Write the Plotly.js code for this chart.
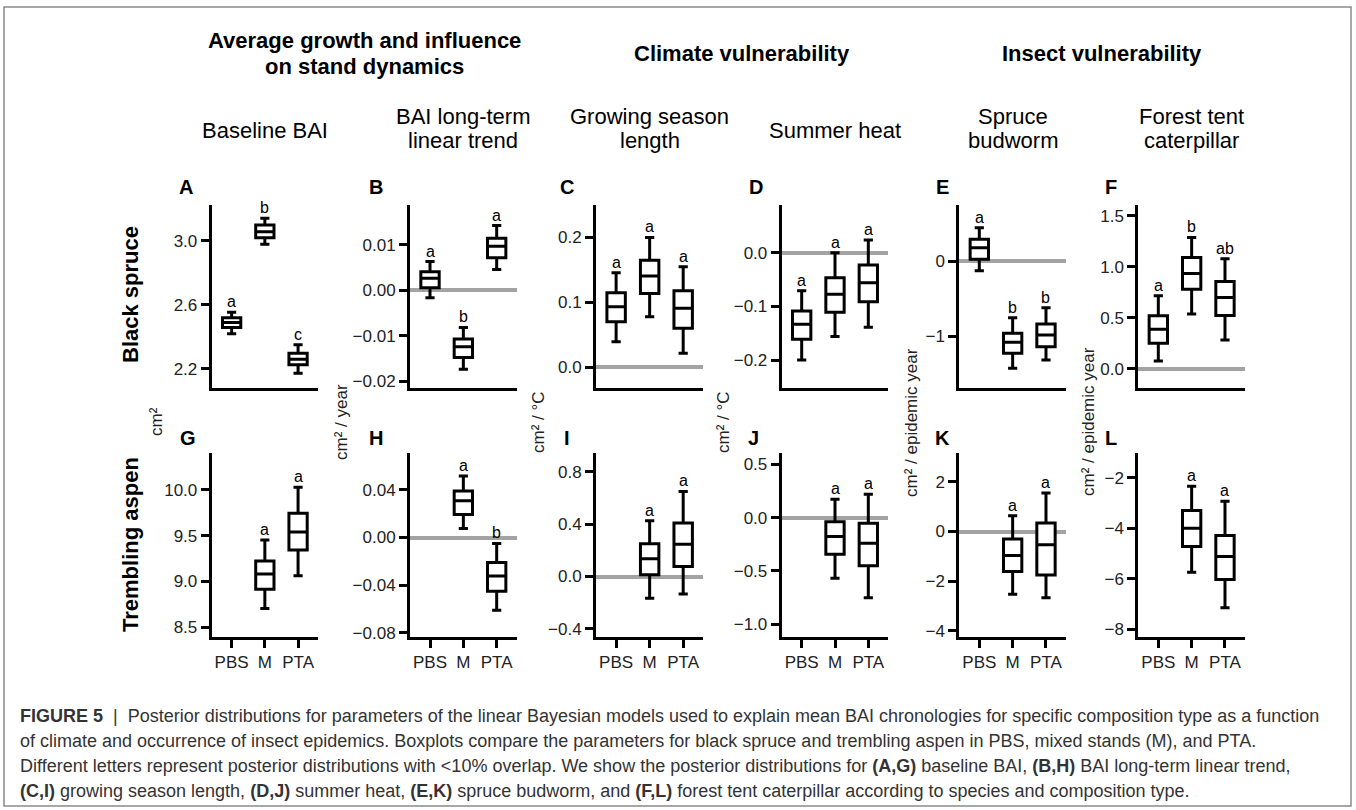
<!DOCTYPE html>
<html><head><meta charset="utf-8">
<script src="https://cdn.plot.ly/plotly-3.0.1.min.js"></script>
<style>html,body{margin:0;padding:0;background:#fff}#plot{width:1356px;height:810px}</style>
</head><body><div id="plot"></div>
<script>
// ---------------- DATA ----------------
const categories = ['PBS', 'M', 'PTA'];
const aspenCategories = ['M', 'PTA'];
// each row: [lower whisker, q1, median, q3, upper whisker]
// Black spruce
const spruceBaseline = [[2.42, 2.458, 2.49, 2.52, 2.554], [2.98, 3.02, 3.058, 3.10, 3.142], [2.173, 2.225, 2.26, 2.298, 2.35]];
const spruceTrend = [[-0.0016, 0.0006, 0.00265, 0.0041, 0.00634], [-0.01735, -0.0148, -0.0124, -0.0107, -0.00817], [0.00457, 0.0072, 0.0097, 0.01148, 0.01428]];
const spruceSeason = [[0.0394, 0.0702, 0.0933, 0.1148, 0.1455], [0.0778, 0.1138, 0.1405, 0.165, 0.2], [0.0215, 0.06, 0.091, 0.118, 0.155]];
const spruceHeat = [[-0.2, -0.161, -0.1334, -0.1086, -0.0708], [-0.156, -0.111, -0.0775, -0.0466, 0.0], [-0.139, -0.0913, -0.0559, -0.023, 0.0236]];
const spruceBudworm = [[-0.129, 0.022, 0.178, 0.289, 0.444], [-1.431, -1.231, -1.084, -0.964, -0.756], [-1.32, -1.142, -0.987, -0.84, -0.622]];
const spruceCaterpillar = [[0.078, 0.252, 0.389, 0.52, 0.716], [0.539, 0.781, 0.934, 1.091, 1.287], [0.284, 0.523, 0.699, 0.856, 1.078]];
// Trembling aspen (M, PTA)
const aspenBaseline = [[8.704, 8.916, 9.083, 9.225, 9.454], [9.064, 9.345, 9.541, 9.746, 10.03]];
const aspenTrend = [[0.0076, 0.0193, 0.0308, 0.0392, 0.0518], [-0.0611, -0.0451, -0.0323, -0.021, -0.005]];
const aspenSeason = [[-0.165, 0.013, 0.135, 0.25, 0.425], [-0.134, 0.076, 0.247, 0.408, 0.649]];
const aspenHeat = [[-0.568, -0.343, -0.178, -0.0375, 0.172], [-0.75, -0.45, -0.24, -0.0525, 0.219]];
const aspenBudworm = [[-2.524, -1.613, -0.968, -0.306, 0.633], [-2.66, -1.746, -0.536, 0.339, 1.548]];
const aspenCaterpillar = [[-5.746, -4.726, -4.0, -3.298, -2.333], [-7.159, -6.036, -5.123, -4.29, -2.929]];
// significance letters
const lettersA = ['a', 'b', 'c'];
const lettersB = ['a', 'b', 'a'];
const lettersC = ['a', 'a', 'a'];
const lettersD = ['a', 'a', 'a'];
const lettersE = ['a', 'b', 'b'];
const lettersF = ['a', 'b', 'ab'];
const lettersG = ['a', 'a'];
const lettersH = ['a', 'b'];
const lettersI = ['a', 'a'];
const lettersJ = ['a', 'a'];
const lettersK = ['a', 'a'];
const lettersL = ['a', 'a'];
// tick values
const ticksA = [2.2, 2.6, 3.0];
const ticksB = [-0.02, -0.01, 0, 0.01];
const ticksC = [0, 0.1, 0.2];
const ticksD = [-0.2, -0.1, 0];
const ticksE = [-1, 0];
const ticksF = [0, 0.5, 1, 1.5];
const ticksG = [8.5, 9, 9.5, 10];
const ticksH = [-0.08, -0.04, 0, 0.04];
const ticksI = [-0.4, 0, 0.4, 0.8];
const ticksJ = [-1, -0.5, 0, 0.5];
const ticksK = [-4, -2, 0, 2];
const ticksL = [-8, -6, -4, -2];
// text
const panelTags = ['A', 'B', 'C', 'D', 'E', 'F', 'G', 'H', 'I', 'J', 'K', 'L'];
const columnTitles = [['Baseline BAI'], ['BAI long-term', 'linear trend'], ['Growing season', 'length'], ['Summer heat'], ['Spruce', 'budworm'], ['Forest tent', 'caterpillar']];
const unitTitles = ['cm²', 'cm² / year', 'cm² / °C', 'cm² / °C', 'cm² / epidemic year', 'cm² / epidemic year'];
const rowTitles = ['Black spruce', 'Trembling aspen'];
const groupTitles = [['Average growth and influence', 'on stand dynamics'], ['Climate vulnerability'], ['Insect vulnerability']];
const captionLines = [
  '<b>FIGURE 5</b>  |  Posterior distributions for parameters of the linear Bayesian models used to explain mean BAI chronologies for specific composition type as a function',
  'of climate and occurrence of insect epidemics. Boxplots compare the parameters for black spruce and trembling aspen in PBS, mixed stands (M), and PTA.',
  'Different letters represent posterior distributions with &lt;10% overlap. We show the posterior distributions for <b>(A,G)</b> baseline BAI, <b>(B,H)</b> BAI long-term linear trend,',
  '<b>(C,I)</b> growing season length, <b>(D,J)</b> summer heat, <b>(E,K)</b> spruce budworm, and <b>(F,L)</b> forest tent caterpillar according to species and composition type.'
];

// ---------------- LAYOUT ----------------
const W = 1356, H = 810;
const FONT = 'Liberation Sans, Arial, Helvetica, sans-serif';
const colX = [[211.7, 318], [410, 516.7], [596, 703.3], [781.7, 888.3], [959.3, 1066], [1138.3, 1245]];
const rowY = [[205, 388], [453.3, 636.7]];
const tagX = [[176.7, 366.7, 558, 746.7, 934, 1103], [178, 367, 561.7, 746, 933, 1103]];
const tagY = [186.7, 438];
const unitX = [156, 341, 538, 723, 911, 1088];
const px = v => v / W;
const py = v => 1 - v / H;

const panels = [
  {stats: spruceBaseline, cats: categories, letters: lettersA, range: [2.08, 3.225], ticks: ticksA, fmt: '.1f'},
  {stats: spruceTrend, cats: categories, letters: lettersB, range: [-0.0215, 0.0188], ticks: ticksB, fmt: '.2f'},
  {stats: spruceSeason, cats: categories, letters: lettersC, range: [-0.032, 0.25], ticks: ticksC, fmt: '.1f'},
  {stats: spruceHeat, cats: categories, letters: lettersD, range: [-0.252, 0.089], ticks: ticksD, fmt: '.1f'},
  {stats: spruceBudworm, cats: categories, letters: lettersE, range: [-1.693, 0.747], ticks: ticksE, fmt: 'd'},
  {stats: spruceCaterpillar, cats: categories, letters: lettersF, range: [-0.186, 1.605], ticks: ticksF, fmt: '.1f'},
  {stats: aspenBaseline, cats: aspenCategories, letters: lettersG, range: [8.397, 10.4], ticks: ticksG, fmt: '.1f'},
  {stats: aspenTrend, cats: aspenCategories, letters: lettersH, range: [-0.0834, 0.0708], ticks: ticksH, fmt: '.2f'},
  {stats: aspenSeason, cats: aspenCategories, letters: lettersI, range: [-0.459, 0.94], ticks: ticksI, fmt: '.1f'},
  {stats: aspenHeat, cats: aspenCategories, letters: lettersJ, range: [-1.116, 0.603], ticks: ticksJ, fmt: '.1f'},
  {stats: aspenBudworm, cats: aspenCategories, letters: lettersK, range: [-4.23, 3.145], ticks: ticksK, fmt: 'd'},
  {stats: aspenCaterpillar, cats: aspenCategories, letters: lettersL, range: [-8.305, -1.03], ticks: ticksL, fmt: 'd'}
];

const traces = [];
const annotations = [];
const layout = {
  width: W, height: H,
  margin: {l: 0, r: 0, t: 0, b: 0},
  paper_bgcolor: '#fff', plot_bgcolor: 'rgba(0,0,0,0)',
  showlegend: false,
  font: {family: FONT, color: '#000'},
  shapes: [{type: 'rect', xref: 'paper', yref: 'paper', x0: px(4), x1: px(1351), y0: py(806), y1: py(7),
            line: {color: '#8a8a8a', width: 1.5}}],
  annotations: annotations
};

panels.forEach((p, i) => {
  const n = i + 1;
  const r = Math.floor(i / 6), c = i % 6;
  const xk = 'xaxis' + (n === 1 ? '' : n), yk = 'yaxis' + (n === 1 ? '' : n);
  const xr = 'x' + (n === 1 ? '' : n), yr = 'y' + (n === 1 ? '' : n);
  layout[xk] = {
    domain: [px(colX[c][0]), px(colX[c][1])], anchor: yr,
    type: 'category', categoryorder: 'array', categoryarray: categories,
    range: [-0.6, 2.6], showline: true, linecolor: '#000', linewidth: 3,
    ticks: r === 1 ? 'outside' : '', ticklen: 8, tickwidth: 3, tickcolor: '#000',
    showticklabels: r === 1, tickfont: {size: 17, color: '#222', family: FONT},
    showgrid: false, zeroline: false, fixedrange: true
  };
  layout[yk] = {
    domain: [py(rowY[r][1]), py(rowY[r][0])], anchor: xr,
    range: p.range, tickmode: 'array', tickvals: p.ticks, tickformat: p.fmt,
    showline: true, linecolor: '#000', linewidth: 3,
    ticks: 'outside', ticklen: 8, tickwidth: 3, tickcolor: '#000',
    tickfont: {size: 17, color: '#222', family: FONT},
    showgrid: false, zeroline: true, zerolinecolor: '#a3a3a3', zerolinewidth: 4, fixedrange: true
  };
  traces.push({
    type: 'box', xaxis: xr, yaxis: yr, x: p.cats,
    lowerfence: p.stats.map(s => s[0]), q1: p.stats.map(s => s[1]), median: p.stats.map(s => s[2]),
    q3: p.stats.map(s => s[3]), upperfence: p.stats.map(s => s[4]),
    fillcolor: '#ffffff', line: {color: '#000', width: 3}, width: 0.55, whiskerwidth: 0.5,
    boxpoints: false, hoverinfo: 'skip', showlegend: false
  });
  p.cats.forEach((cat, k) => {
    annotations.push({xref: xr, yref: yr, x: cat, y: p.stats[k][4], text: p.letters[k], showarrow: false,
      xanchor: 'center', yanchor: 'bottom', yshift: 0, font: {size: 16, color: '#000', family: FONT}});
  });
  annotations.push({xref: 'paper', yref: 'paper', x: px(tagX[r][c]), y: py(tagY[r]), text: '<b>' + panelTags[i] + '</b>',
    showarrow: false, xanchor: 'left', yanchor: 'middle', font: {size: 20, color: '#000', family: FONT}});
});

// column titles
columnTitles.forEach((lines, c) => {
  const cx = (colX[c][0] + colX[c][1]) / 2;
  const ys = lines.length === 1 ? [130] : [116, 141];
  lines.forEach((t, j) => annotations.push({xref: 'paper', yref: 'paper', x: px(cx), y: py(ys[j]), text: t,
    showarrow: false, xanchor: 'center', yanchor: 'middle', font: {size: 22, color: '#000', family: FONT}}));
});
// group titles
groupTitles.forEach((lines, g) => {
  const cx = ((colX[2 * g][0] + colX[2 * g][1]) / 2 + (colX[2 * g + 1][0] + colX[2 * g + 1][1]) / 2) / 2;
  const ys = lines.length === 1 ? [53] : [41, 66];
  lines.forEach((t, j) => annotations.push({xref: 'paper', yref: 'paper', x: px(cx), y: py(ys[j]), text: '<b>' + t + '</b>',
    showarrow: false, xanchor: 'center', yanchor: 'middle', font: {size: 22, color: '#000', family: FONT}}));
});
// unit (y-axis) titles, shared by both rows
unitTitles.forEach((t, c) => annotations.push({xref: 'paper', yref: 'paper', x: px(unitX[c]), y: py(422), text: t,
  textangle: -90, showarrow: false, xanchor: 'center', yanchor: 'middle', font: {size: 17, color: '#222', family: FONT}}));
// row titles
rowTitles.forEach((t, r) => annotations.push({xref: 'paper', yref: 'paper', x: px(130), y: py(r === 0 ? 295 : 545),
  text: '<b>' + t + '</b>', textangle: -90, showarrow: false, xanchor: 'center', yanchor: 'middle',
  font: {size: 22, color: '#000', family: FONT}}));
// caption
captionLines.forEach((t, j) => annotations.push({xref: 'paper', yref: 'paper', x: px(18), y: py(716 + 25 * j), text: t,
  showarrow: false, xanchor: 'left', yanchor: 'middle', font: {size: 18, color: '#333', family: FONT}}));

Plotly.newPlot('plot', traces, layout, {staticPlot: true, displayModeBar: false});
</script>
</body></html>
